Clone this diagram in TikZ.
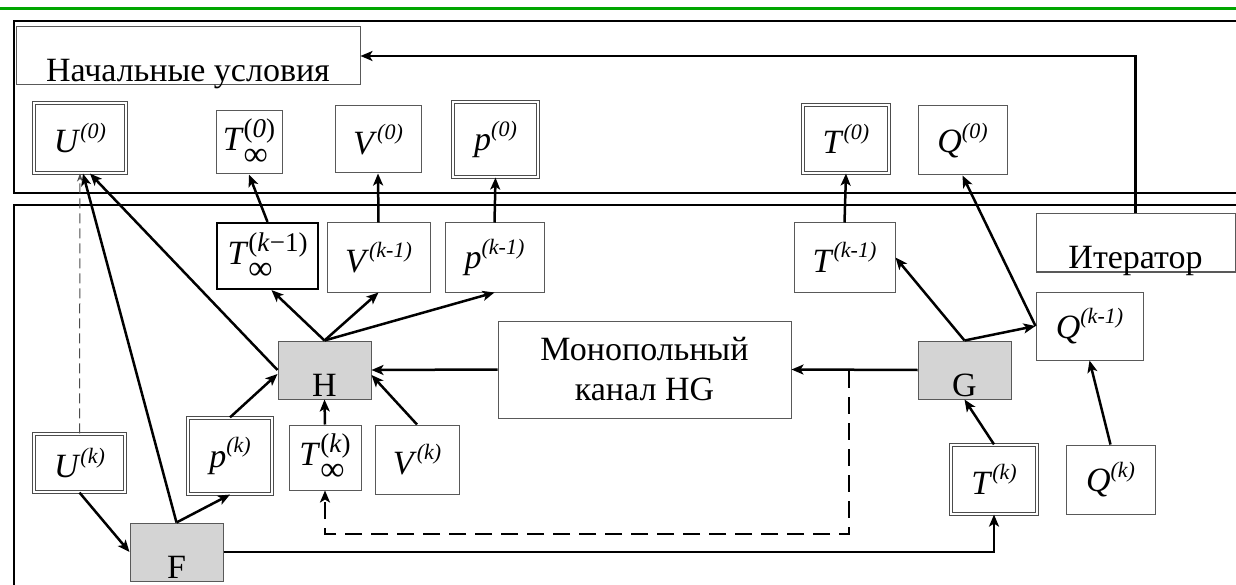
\documentclass[tikz,border=0pt]{standalone}
\usepackage{fontspec}
\setmainfont{Liberation Serif}
\usetikzlibrary{arrows.meta,calc}
\newcommand{\vlab}[2]{\textit{#1}\raisebox{.42em}{\fontsize{22}{24}\selectfont\textit{#2}}}
\newcommand{\tlab}[1]{\textit{T}\makebox[0pt][l]{\raisebox{-15pt}{\fontsize{34}{34}\selectfont ∞}}\raisebox{13pt}{\fontsize{27}{28}\selectfont #1}}

\begin{document}
\begin{tikzpicture}[x=1pt,y=-1pt,
  every node/.style={inner sep=0pt, font=\fontsize{34}{40}\selectfont},
  sz/.style 2 args={minimum width=#1pt, minimum height=#2pt},
  box/.style={draw=black!65, line width=1pt, fill=white},
  dbox/.style={draw=black!70, line width=1.2pt, double=white, double distance=2.2pt},
  tbox/.style={draw=black, line width=2.2pt, fill=white},
  gbox/.style={draw=black!65, line width=1pt, fill=black!17},
  low/.style={text depth=3pt, text height=55pt},
  frame/.style={line width=2pt},
  arr/.style={line width=2.5pt, -{Stealth[length=12pt,width=10pt,inset=3pt]}},
  dsh/.style={line width=2.5pt, dash pattern=on 17pt off 9pt, -{Stealth[length=12pt,width=10pt,inset=3pt]}}
]
\clip (0,0) rectangle (1236,585);
\fill[white] (0,0) rectangle (1236,585);
\draw[green!65!black, line width=3pt] (0,9) -- (1236,9);
\draw[frame] (1250,21) -- (14,21) -- (14,193) -- (1250,193);
\draw[frame] (1250,205) -- (14,205) -- (14,600);

\node[box, low, minimum width=344pt] (init) at (188,56) {Начальные условия};
\node[dbox, sz={92}{70}] (u0) at (80,138) {\vlab{U}{(0)}};
\node[box, sz={66}{63}] (tinf0) at (249,142.5) {\tlab{(\textit{0})}};
\node[box, sz={86}{67}] (v0) at (378,139.5) {\vlab{V}{(0)}};
\node[dbox, sz={85}{75}] (p0) at (495.5,139.5) {\vlab{p}{(0)}};
\node[dbox, sz={86}{68}] (t0) at (846,139) {\vlab{T}{(0)}};
\node[box, sz={89}{69}] (q0) at (962.5,140.5) {\vlab{Q}{(0)}};

\node[tbox, sz={101}{66}] (tinfk1) at (267.5,256) {\tlab{(\textit{k}−1)}};
\node[box, sz={103}{69}] (vk1) at (378.5,257.5) {\vlab{V}{(k-1)}};
\node[box, sz={99}{69}] (pk1) at (494.5,257.5) {\vlab{p}{(k-1)}};
\node[box, sz={101}{69}] (tk1) at (844.5,257.5) {\vlab{T}{(k-1)}};
\node[box, low, minimum width=199pt] (iter) at (1135.5,243) {Итератор};
\node[box, sz={107}{68}] (qk1) at (1089.5,326) {\vlab{Q}{(k-1)}};
\node[box, sz={293}{97}, align=center] (chan) at (644.5,369.5) {Монопольный\\канал HG};
\node[gbox, low, minimum width=93pt] (h) at (324.5,370) {H};
\node[gbox, low, minimum width=93pt] (g) at (964.5,370) {G};
\node[gbox, low, minimum width=93pt] (f) at (176.5,552) {F};
\node[dbox, sz={91}{58}] (uk) at (79.5,463) {\vlab{U}{(k)}};
\node[dbox, sz={84}{76}] (pk) at (230,456) {\vlab{p}{(k)}};
\node[box, sz={72}{65}] (tinfk) at (325,457.5) {\tlab{(\textit{k})}};
\node[box, sz={84}{69}] (vk) at (417,459.5) {\vlab{V}{(k)}};
\node[dbox, sz={86}{69}] (tk) at (994,479.5) {\vlab{T}{(k)}};
\node[box, sz={89}{69}] (qk) at (1110.5,479.5) {\vlab{Q}{(k)}};

\coordinate (tap) at (849,371);
\coordinate (dbot) at (849,534);

\draw[arr] (tinfk1.north) -- (tinf0.south);
\draw[arr] (vk1.north) -- (v0.south);
\draw[arr] (pk1.north) -- (p0.south);
\draw[arr] (tk1.north) -- (t0.south);
\draw[arr] (iter.north) |- (init.east);
\draw[arr] (g.north) -- (tk1.east);
\draw[arr] (g.north) -- (qk1.west);
\draw[arr] (qk1.west) -- (q0.south);
\draw[arr] (qk.north) -- (qk1.south);
\draw[arr] (tk.north) -- (g.south);
\draw[arr] (g.west) -- (chan.east);
\draw[arr] (chan.west) -- (h.east);
\draw[arr] (h.north) -- ($(tinfk1.south)+(4,0)$);
\draw[arr] (h.north) -- (vk1.south);
\draw[arr] (h.north) -- (pk1.south);
\draw[arr] (vk.north) -- ($(h.east)+(0,5)$);
\draw[arr] (tinfk.north) -- (h.south);
\draw[arr] (pk.north) -- ($(h.west)+(0,4)$);
\draw[arr] (uk.south) -- (f.west);
\draw[arr] (f.north) -- (pk.south);
\draw[arr] (f.north) -- ($(u0.south)+(3,0)$);
\draw[arr] (h.west) -- ($(u0.south)+(10,0)$);
\draw[black!70, line width=1pt, dash pattern=on 10pt off 5pt, -{Stealth[length=8pt,width=6pt]}] (uk.north) -- (u0.south);
\draw[arr] (f.east) -| (tk.south);
\draw[dsh] (tap) -- (dbot) -| (tinfk.south);
\end{tikzpicture}
\end{document}
